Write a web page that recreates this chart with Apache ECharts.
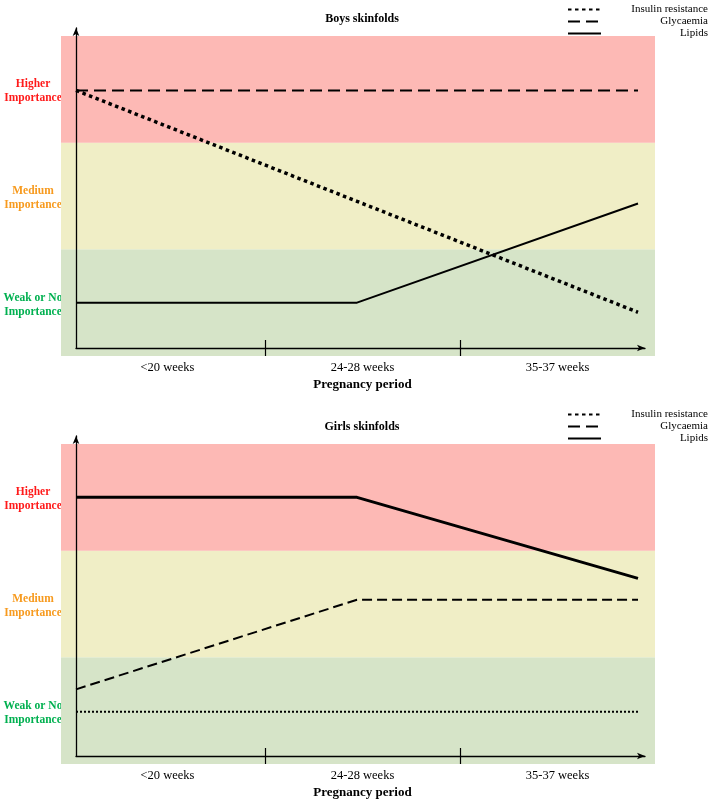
<!DOCTYPE html>
<html><head><meta charset="utf-8">
<script src="https://cdn.jsdelivr.net/npm/echarts@6/dist/echarts.min.js"></script>
<style>html,body{margin:0;padding:0;background:#fff}#c{width:709px;height:801px}</style>
</head><body><div id="c"></div>
<script>
// ---- data ----
var periodLabels = ['<20 weeks', '24-28 weeks', '35-37 weeks'];
var periodTickPositions = [1, 2];
var periodLabelPositions = [0.5, 1.5, 2.5];
var importanceLabels = ['Weak or No\nImportance', 'Medium\nImportance', 'Higher\nImportance'];
var xPoints = [0, 1, 2];
var seriesNames = ['Insulin resistance', 'Glycaemia', 'Lipids'];
var boysInsulin = [2.49, 1.45, 0.41];
var boysGlycaemia = [2.49, 2.49, 2.49];
var boysLipids = [0.50, 0.50, 1.43];
var girlsInsulin = [0.49, 0.49, 0.49];
var girlsGlycaemia = [0.70, 1.54, 1.54];
var girlsLipids = [2.50, 2.50, 1.74];
var panelTitles = ['Boys skinfolds', 'Girls skinfolds'];
var xAxisTitle = 'Pregnancy period';

var bandColors = ['#d6e4c8', '#f0eec6', '#fdb9b5'];
var labelColors = ['#00b050', '#f79a1e', '#ff1a1a'];
var FONT = 'Liberation Serif';

function pts(vals){ return xPoints.map(function(x,i){ return [x, vals[i]]; }); }

var grids = [], xAxes = [], yAxes = [], series = [], titles = [], legends = [];
var panels = [
  {off:0, legOff:0, ins:boysInsulin, gly:boysGlycaemia, lip:boysLipids, insW:3.5, insDash:[3.5,3.5], glyDash:[12,6], lipW:2},
  {off:408, legOff:405, ins:girlsInsulin, gly:girlsGlycaemia, lip:girlsLipids, insW:2, insDash:[2,2], glyDash:[10,5], lipW:3}
];
var richLbl = {};
labelColors.forEach(function(c,i){ richLbl['c'+i] = {color:c, fontFamily:FONT, fontWeight:'bold', fontSize:11.5, lineHeight:14, align:'center'}; });
panels.forEach(function(p, pi){
  var o = p.off;
  // grid A: bands + lines
  var gA = grids.length;
  grids.push({left:61, width:594, top:36+o, height:320, outerBoundsMode:'none', containLabel:false});
  xAxes.push({gridIndex:gA, type:'value', min:-15/281, max:2+17/281, show:false});
  var yA = yAxes.length;
  yAxes.push({gridIndex:gA, type:'value', min:0, max:3, show:false});
  yAxes.push({gridIndex:gA, type:'category', position:'left', data:importanceLabels, boundaryGap:true,
    axisLine:{show:false}, axisTick:{show:false}, splitLine:{show:false},
    axisLabel:{margin:28, align:'center', fontFamily:FONT, fontWeight:'bold', fontSize:11.5, lineHeight:14,
      padding:[4,0,0,0],
      formatter:function(v, i){ return '{c'+i+'|'+v.split('\n').join('}\n{c'+i+'|')+'}'; },
      rich:richLbl}});
  var xi = xAxes.length-1;
  series.push({type:'line', xAxisIndex:xi, yAxisIndex:yA, data:[], silent:true, z:1,
    markArea:{silent:true, data:bandColors.map(function(c,i){ return [{yAxis:i, itemStyle:{color:c}},{yAxis:i+1}]; })}});
  var mk = function(name, vals, ls){
    series.push({name:name, type:'line', xAxisIndex:xi, yAxisIndex:yA, data:pts(vals), symbol:'none', showSymbol:false,
      lineStyle:ls, itemStyle:{color:'#000'}, z:5, animation:false});
  };
  mk(seriesNames[0], p.ins, {color:'#000', width:p.insW, type:p.insDash, cap:'butt'});
  mk(seriesNames[1], p.gly, {color:'#000', width:2, type:p.glyDash});
  mk(seriesNames[2], p.lip, {color:'#000', width:p.lipW, type:'solid'});
  // grid B: arrow axes
  var gB = grids.length;
  grids.push({left:76, width:569, top:28+o, height:320, outerBoundsMode:'none'});
  xAxes.push({gridIndex:gB, type:'value', min:0, max:1, z:10, axisLine:{show:true, onZero:false, lineStyle:{color:'#000', width:1.3}, symbol:['none','arrow'], symbolSize:[5,8]},
    axisTick:{show:false}, axisLabel:{show:false}, splitLine:{show:false}});
  yAxes.push({gridIndex:gB, type:'value', min:0, max:1, z:10, axisLine:{show:true, onZero:false, lineStyle:{color:'#000', width:1.3}, symbol:['none','arrow'], symbolSize:[5,8]},
    axisTick:{show:false}, axisLabel:{show:false}, splitLine:{show:false}});
  // grid C: period axis with ticks and labels
  var gC = grids.length;
  grids.push({left:70, width:585, top:28+o, height:312, outerBoundsMode:'none'});
  xAxes.push({gridIndex:gC, type:'value', min:0, max:3, z:10,
    name:xAxisTitle, nameLocation:'middle', nameGap:38,
    nameTextStyle:{fontFamily:FONT, fontWeight:'bold', fontSize:13, color:'#000'},
    axisLine:{show:false}, axisTick:{show:true, length:16, customValues:periodTickPositions, lineStyle:{color:'#000', width:1.2}},
    axisLabel:{margin:21, fontFamily:FONT, fontSize:12.5, color:'#000', customValues:periodLabelPositions,
      formatter:function(v){ return periodLabels[Math.floor(v)]; }}, splitLine:{show:false}});
  yAxes.push({gridIndex:gC, type:'value', show:false});
  titles.push({text:panelTitles[pi], left:357, textAlign:'center', top:8+o,
    textStyle:{fontFamily:FONT, fontWeight:'bold', fontSize:12, color:'#000'}});
  legends.push({data:seriesNames, orient:'vertical', left:562, top:-1+p.legOff, itemWidth:33, itemHeight:8, itemGap:1,
    selectedMode:false, itemStyle:{opacity:0}, lineStyle:{width:2},
    formatter:function(n){ return '{t|'+n+'}'; },
    textStyle:{fontFamily:FONT, fontSize:11, color:'#000', rich:{t:{width:102, align:'right', fontFamily:FONT, fontSize:11, lineHeight:12}}}});
});

var chart = echarts.init(document.getElementById('c'), null, {renderer:'canvas'});
chart.setOption({
  animation:false,
  title:titles,
  legend:legends,
  grid:grids, xAxis:xAxes, yAxis:yAxes, series:series
});
</script></body></html>
